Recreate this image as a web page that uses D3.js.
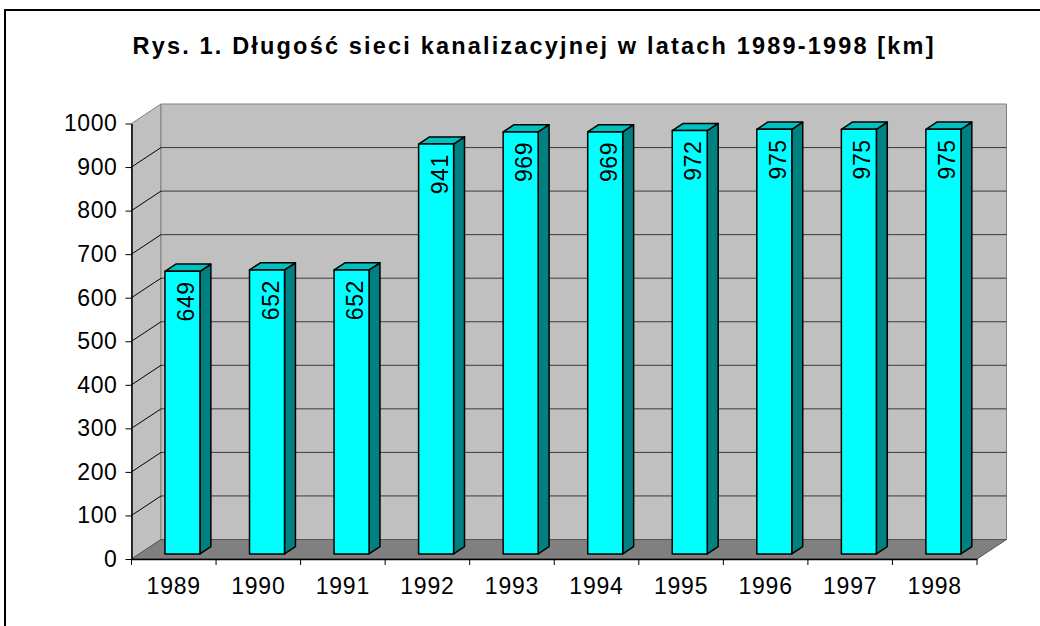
<!DOCTYPE html>
<html>
<head>
<meta charset="utf-8">
<script src="https://cdn.jsdelivr.net/npm/d3@7"></script>
<style>
  body { margin: 0; background: #fff; }
  svg { display: block; font-family: "Liberation Sans", Arial, sans-serif; }
</style>
</head>
<body>
<svg width="1040" height="626"></svg>
<script>
let years = ['1989','1990','1991','1992','1993','1994','1995','1996','1997','1998']
let values = [649, 652, 652, 941, 969, 969, 972, 975, 975, 975]
let yTicks = [0, 100, 200, 300, 400, 500, 600, 700, 800, 900, 1000]
let title = 'Rys. 1. Długość sieci kanalizacyjnej w latach 1989-1998 [km]'

let svg = d3.select('svg')

// depth of the 3d box
let depthX = 29.5
let depthY = -19.5
let barZ0 = 0.26
let barZ1 = 0.63

let xScale = d3.scaleBand()
               .domain(years)
               .range([131.5, 977])

let yScale = d3.scaleLinear()
               .domain([0, 1000])
               .range([559, 123.5])

// project (x, value, z) into the screen
let pt = (x, v, z) => [x + z*depthX, yScale(v) + z*depthY]
let poly = (pts) => pts.map(p => p.join(',')).join(' ')

// outer frame
svg.append('rect')
   .attr('x', 5).attr('y', 10)
   .attr('width', 1050).attr('height', 640)
   .attr('fill', 'none')
   .attr('stroke', '#000')
   .attr('stroke-width', 2)

svg.append('text')
   .attr('x', 533).attr('y', 54)
   .attr('text-anchor', 'middle')
   .attr('font-size', 23.5)
   .attr('font-weight', 'bold')
   .attr('textLength', 801)
   .attr('lengthAdjust', 'spacing')
   .text(title)

let x0 = xScale.range()[0]
let x1 = xScale.range()[1]

// left wall
svg.append('polygon')
   .attr('points', poly([pt(x0,0,0), pt(x0,1000,0), pt(x0,1000,1), pt(x0,0,1)]))
   .attr('fill', '#c0c0c0')
   .attr('stroke', '#808080')

// back wall
svg.append('polygon')
   .attr('points', poly([pt(x0,0,1), pt(x0,1000,1), pt(x1,1000,1), pt(x1,0,1)]))
   .attr('fill', '#c0c0c0')
   .attr('stroke', '#808080')

// floor
svg.append('polygon')
   .attr('points', poly([pt(x0,0,0), pt(x0,0,1), pt(x1,0,1), pt(x1,0,0)]))
   .attr('fill', '#808080')
   .attr('stroke', '#555')

// grid lines
let grid = yTicks.filter(t => t > 0 && t < 1000)
svg.selectAll('.gridBack')
   .data(grid)
   .enter()
   .append('line')
   .attr('class', 'gridBack')
   .attr('x1', d => pt(x0,d,1)[0]).attr('y1', d => pt(x0,d,1)[1])
   .attr('x2', d => pt(x1,d,1)[0]).attr('y2', d => pt(x1,d,1)[1])
   .attr('stroke', '#3a3a3a')
   .attr('stroke-width', 1)

svg.selectAll('.gridSide')
   .data(grid)
   .enter()
   .append('line')
   .attr('class', 'gridSide')
   .attr('x1', d => pt(x0,d,0)[0]).attr('y1', d => pt(x0,d,0)[1])
   .attr('x2', d => pt(x0,d,1)[0]).attr('y2', d => pt(x0,d,1)[1])
   .attr('stroke', '#000')
   .attr('stroke-width', 1)

// bars
let bw = xScale.bandwidth()
let bars = svg.selectAll('.bar')
              .data(years.map((y, i) => ({year: y, value: values[i]})))
              .enter()
              .append('g')
              .attr('class', 'bar')

let left = d => xScale(d.year) + bw*0.305
let right = d => xScale(d.year) + bw*0.305 + bw*0.414

bars.append('polygon')
    .attr('points', d => poly([pt(right(d),0,barZ0), pt(right(d),d.value,barZ0), pt(right(d),d.value,barZ1), pt(right(d),0,barZ1)]))
    .attr('fill', '#008080')
    .attr('stroke', '#000')
    .attr('stroke-width', 1.5)
    .attr('stroke-linejoin', 'round')

bars.append('polygon')
    .attr('points', d => poly([pt(left(d),d.value,barZ0), pt(right(d),d.value,barZ0), pt(right(d),d.value,barZ1), pt(left(d),d.value,barZ1)]))
    .attr('fill', '#00c0c0')
    .attr('stroke', '#000')
    .attr('stroke-width', 1.5)
    .attr('stroke-linejoin', 'round')

bars.append('polygon')
    .attr('points', d => poly([pt(left(d),0,barZ0), pt(left(d),d.value,barZ0), pt(right(d),d.value,barZ0), pt(right(d),0,barZ0)]))
    .attr('fill', '#00ffff')
    .attr('stroke', '#000')
    .attr('stroke-width', 1.5)
    .attr('stroke-linejoin', 'round')

bars.append('text')
    .attr('transform', d => {
        let p = pt(left(d) + bw*0.414*0.83, d.value, barZ0)
        return 'translate(' + p[0] + ',' + (p[1] + 10) + ') rotate(-90)'
    })
    .attr('text-anchor', 'end')
    .attr('font-size', 23)
    .attr('letter-spacing', 0.6)
    .text(d => d.value)

// axes
let yAxis = d3.axisLeft(yScale)
              .tickValues(yTicks)
              .tickFormat(d3.format('d'))
              .tickSize(6)
              .tickPadding(8)
              .tickSizeOuter(0)

svg.append('g')
   .attr('transform', 'translate(' + x0 + ',0)')
   .call(yAxis)
   .call(g => g.select('.domain').attr('stroke', '#000').attr('stroke-width', 1.5))
   .call(g => g.selectAll('text')
              .attr('font-size', 23)
              .attr('letter-spacing', 0.6)
              .attr('font-family', '"Liberation Sans", Arial, sans-serif')
              .attr('fill', '#000'))

let xAxis = d3.axisBottom(xScale)
              .tickSize(0)
              .tickPadding(19)
              .tickSizeOuter(0)

svg.append('g')
   .attr('transform', 'translate(0,' + yScale(0) + ')')
   .call(xAxis)
   .call(g => g.select('.domain').attr('stroke', '#000').attr('stroke-width', 1.5))
   .call(g => g.selectAll('text')
              .attr('font-size', 23)
              .attr('letter-spacing', 0.8)
              .attr('font-family', '"Liberation Sans", Arial, sans-serif')
              .attr('fill', '#000'))

// ticks between categories on the x axis
svg.selectAll('.xTick')
   .data(years.concat(['end']))
   .enter()
   .append('line')
   .attr('class', 'xTick')
   .attr('x1', (d, i) => i < years.length ? xScale(d) : x1)
   .attr('x2', (d, i) => i < years.length ? xScale(d) : x1)
   .attr('y1', yScale(0))
   .attr('y2', yScale(0) + 6)
   .attr('stroke', '#000')
</script>
</body>
</html>
